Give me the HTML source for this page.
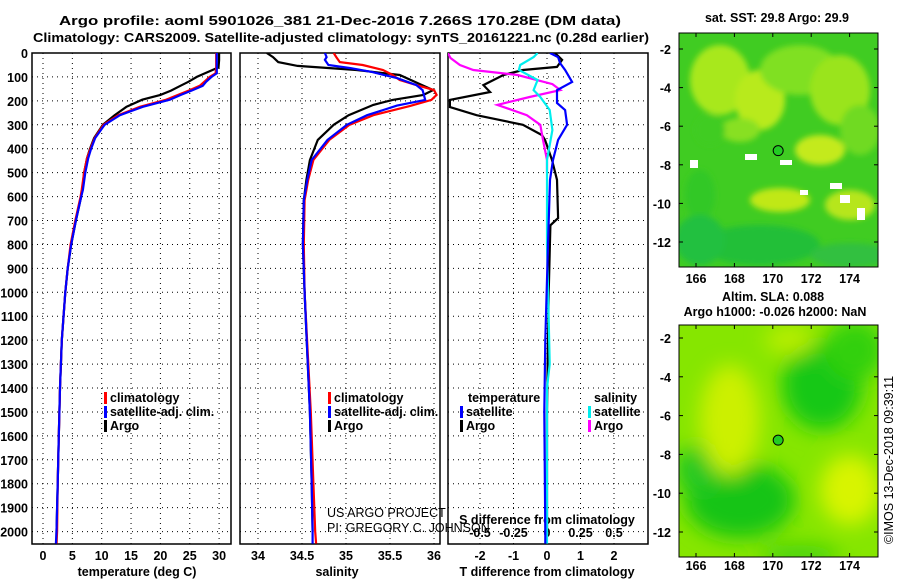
<!DOCTYPE html>
<html><head><meta charset="utf-8"><style>
html,body{margin:0;padding:0;background:#fff}
svg{display:block;font-family:"Liberation Sans",sans-serif}
.b{font-weight:bold;font-size:12.5px}
.t{font-weight:bold;font-size:13px}
</style></head><body>
<svg id="c" width="900" height="580" viewBox="0 0 900 580" xmlns="http://www.w3.org/2000/svg">
<defs>
<clipPath id="cp1"><rect x="32" y="53" width="199" height="491"/></clipPath>
<clipPath id="cp2"><rect x="240" y="53" width="200" height="491"/></clipPath>
<clipPath id="cp3"><rect x="448" y="53" width="200" height="491"/></clipPath>
<clipPath id="cm1"><rect x="679" y="33" width="199" height="234"/></clipPath>
<clipPath id="cm2"><rect x="679" y="325" width="199" height="232"/></clipPath>
<filter id="bl" x="-50%" y="-50%" width="200%" height="200%"><feGaussianBlur stdDeviation="10"/></filter>
<filter id="bl2" x="-50%" y="-50%" width="200%" height="200%"><feGaussianBlur stdDeviation="3"/></filter>
</defs>
<text class="t" x="340" y="25" text-anchor="middle" textLength="562" lengthAdjust="spacingAndGlyphs">Argo profile: aoml 5901026_381 21-Dec-2016 7.266S 170.28E (DM data)</text>
<text class="t" x="341" y="42" text-anchor="middle" textLength="616" lengthAdjust="spacingAndGlyphs">Climatology: CARS2009. Satellite-adjusted climatology: synTS_20161221.nc (0.28d earlier)</text>
<g id="g"></g>
</svg>
<script>
// ---- data ----
const depthTicks=[0,100,200,300,400,500,600,700,800,900,1000,1100,1200,1300,1400,1500,1600,1700,1800,1900,2000];
const tempTicks=[0,5,10,15,20,25,30];
const salTicks=[34,34.5,35,35.5,36];
const tdiffTicks=[-2,-1,0,1,2];
const sdiffTicks=[-0.5,-0.25,0,0.25,0.5];
const sdiffLabels=["-0.5","-0.25","0","0.25","0.5"];

const tDepth=[0,30,60,85,100,120,137,157,175,195,225,260,300,355,400,440,500,572,600,700,800,900,1000,1200,1400,1600,1800,2000,2050];
const tClim=[29.5,29.5,29.5,29.4,28.4,27.5,26.7,24.8,23,21,16.5,12.8,10.3,8.8,8.1,7.5,7,6.6,6.4,5.5,4.7,4.2,3.8,3.2,2.9,2.7,2.5,2.4,2.3];
const tSat=[29.6,29.6,29.6,29.6,28.7,27.8,27.2,25.3,23.5,21.6,17,13.1,10.5,8.9,8.2,7.7,7.2,6.8,6.5,5.6,4.8,4.2,3.8,3.2,2.9,2.7,2.5,2.3,2.2];
const tArgo=[30,30,29.9,27.6,26.2,24.8,23.4,21.8,20,16.9,14.2,12.2,10.2,8.7,8.0,7.5,7.0,6.7,6.5,5.6,4.8,4.2,3.8,3.2,2.9,2.7,2.5,2.3,2.3];

const sClimD=[0,17,38,50,71,92,113,134,155,175,196,221,260,300,363,447,530,615,800,1000,1500,1800,2000,2050];
const sClim=[34.86,34.89,34.93,35.19,35.42,35.53,35.61,35.8,36.0,36.03,35.97,35.73,35.31,35.04,34.81,34.63,34.57,34.53,34.52,34.53,34.6,34.63,34.65,34.66];
const sSatD=[0,17,29,50,63,80,105,134,155,196,220,260,300,363,447,530,615,800,1000,1500,1800,2000,2050];
const sSat=[34.76,34.78,34.76,34.8,35.05,35.3,35.58,35.8,35.87,35.9,35.58,35.24,35.01,34.79,34.61,34.56,34.52,34.51,34.53,34.59,34.61,34.62,34.62];
const sArgoD=[0,17,38,54,71,92,130,155,175,196,217,260,300,363,447,530,615,800,1000,1500,1800,2000];
const sArgo=[34.1,34.17,34.23,34.45,35.12,35.61,35.84,35.99,35.88,35.53,35.31,35.03,34.86,34.68,34.59,34.55,34.52,34.51,34.53,34.59,34.61,34.62];

const dTSatD=[0,17,42,71,121,155,209,238,300,363,447,530,800,1200,1500,2000,2050];
const dTSat=[0.09,0.33,0.39,0.54,0.75,0.3,0.3,0.54,0.6,0.33,0.18,0.09,0.03,-0.05,-0.08,-0.05,-0.05];
const dTArgoD=[0,29,58,71,92,134,163,196,226,260,300,343,363,447,530,690,720,1000,1500,2000];
const dTArgo=[0.24,0.45,0.3,-0.72,-1.3,-1.9,-1.7,-2.9,-2.9,-2.1,-0.72,-0.15,-0.06,0.15,0.3,0.33,0.1,0.05,0,0];
const dSSatD=[0,17,50,71,113,155,184,238,322,447,800,1300,1400,2000,2050];
const dSSat=[-0.07,-0.1,-0.2,-0.21,-0.07,-0.1,-0.05,0.02,0.04,0,0,0.02,0,0,0];
const dSArgoD=[0,21,50,71,92,130,155,184,217,260,300,363,447,500];
const dSArgo=[-0.74,-0.72,-0.65,-0.55,-0.22,0.04,0.1,-0.13,-0.37,-0.15,-0.05,-0.03,0,0];

const lonTicks=[166,168,170,172,174];
const latTicks=[-2,-4,-6,-8,-10,-12];
const argoLon=170.28, argoLat=-7.266;

// ---- scales ----
const yD=d=>53+d*0.2393;
const xT=t=>43+t*5.87;
const xS=s=>302+(s-34.5)*88;
const xDT=t=>547+t*33.5;
const xDS=s=>547+s*134;
const mx=l=>696+(l-166)*19.2;
const my1=l=>49+(-2-l)*19.3;
const my2=l=>338+(-2-l)*19.4;

const NS="http://www.w3.org/2000/svg";
const G=document.getElementById('g');
function mk(tag,attrs,parent){const e=document.createElementNS(NS,tag);for(const k in attrs)e.setAttribute(k,attrs[k]);(parent||G).appendChild(e);return e;}
function txt(x,y,s,cls,anchor,parent){const e=mk('text',{x:x,y:y,class:cls||'b','text-anchor':anchor||'start'},parent);e.textContent=s;return e;}

const panels=[{x0:32,x1:231,clip:'cp1'},{x0:240,x1:440,clip:'cp2'},{x0:448,x1:648,clip:'cp3'}];
const vticks=[tempTicks.map(xT),salTicks.map(xS),tdiffTicks.map(xDT)];
panels.forEach((p,i)=>{
  const grp=mk('g',{});
  
  
  depthTicks.forEach(d=>{const l=mk('line',{x1:p.x0,x2:p.x1,y1:yD(d),y2:yD(d),stroke:'#000','stroke-width':1,'stroke-dasharray':'1,4'},grp);
    });
  vticks[i].forEach(x=>{const l=mk('line',{x1:x,x2:x,y1:53,y2:544,stroke:'#000','stroke-width':1,'stroke-dasharray':'1,4'},grp);
    });
  const r=mk('rect',{x:p.x0,y:53,width:p.x1-p.x0,height:491,fill:'none',stroke:'#000','stroke-width':1.5},grp);
  
});
depthTicks.forEach(d=>{const e=txt(28,yD(d)+5,String(d),'b','end');
  });
tempTicks.forEach(t=>{const e=txt(xT(t),560,String(t),'b','middle');
  });
salTicks.forEach(s=>{const e=txt(xS(s),560,String(s),'b','middle');
  });
tdiffTicks.forEach(t=>{const e=txt(xDT(t),560,String(t),'b','middle');
  });
sdiffTicks.forEach((s,i)=>{const e=txt(xDS(s),537,sdiffLabels[i],'b','middle');
  });
let e;
e=txt(137,576,'temperature (deg C)','b','middle');
e=txt(337,576,'salinity','b','middle');
e=txt(547,576,'T difference from climatology','b','middle');
e=txt(547,524,'S difference from climatology','b','middle');
e=txt(327,517,'US ARGO PROJECT','b','start');e.style.fontWeight='normal';
e=txt(327,532,'PI: GREGORY C. JOHNSON','b','start');e.style.fontWeight='normal';

function line(depths,vals,xf,color,clip,name){
  const pts=depths.map((d,i)=>xf(vals[i]).toFixed(1)+','+yD(d).toFixed(1)).join(' ');
  const pl=mk('polyline',{points:pts,fill:'none',stroke:color,'stroke-width':2.2,'clip-path':'url(#'+clip+')'});
  
  
}
line(tDepth,tArgo,xT,'#000','cp1','temperature-argo-line');
line(tDepth,tClim,xT,'#f00','cp1','temperature-climatology-line');
line(tDepth,tSat,xT,'#00f','cp1','temperature-satellite-line');
line(sArgoD,sArgo,xS,'#000','cp2','salinity-argo-line');
line(sClimD,sClim,xS,'#f00','cp2','salinity-climatology-line');
line(sSatD,sSat,xS,'#00f','cp2','salinity-satellite-line');
line(dTArgoD,dTArgo,xDT,'#000','cp3','t-diff-argo-line');
line(dSArgoD,dSArgo,xDS,'#f0f','cp3','s-diff-argo-line');
line(dSSatD,dSSat,xDS,'#0ee','cp3','s-diff-satellite-line');
line(dTSatD,dTSat,xDT,'#00f','cp3','t-diff-satellite-line');

function legend(x,y,color,label,name){
  const m=mk('rect',{x:x,y:y-10,width:3,height:12,fill:color});
  
  const t=txt(x+6,y,label,'b','start');
  
}
legend(104,402,'#f00','climatology','legend-temp-climatology');
legend(104,416,'#00f','satellite-adj. clim.','legend-temp-satellite');
legend(104,430,'#000','Argo','legend-temp-argo');
legend(328,402,'#f00','climatology','legend-sal-climatology');
legend(328,416,'#00f','satellite-adj. clim.','legend-sal-satellite');
legend(328,430,'#000','Argo','legend-sal-argo');
e=txt(468,402,'temperature');
legend(460,416,'#00f','satellite','legend-tdiff-satellite');
legend(460,430,'#000','Argo','legend-tdiff-argo');
e=txt(594,402,'salinity');
legend(588,416,'#0ee','satellite','legend-sdiff-satellite');
legend(588,430,'#f0f','Argo','legend-sdiff-argo');

// ---- maps ----
function mapFrame(y0,h,myf,botY,name,blobs,base,whites,blur){
  const grp=mk('g',{});
  
  
  const cg=mk('g',{'clip-path':'url(#'+(y0<300?'cm1':'cm2')+')'},grp);
  mk('rect',{x:679,y:y0,width:199,height:h,fill:base},cg);
  const bg=mk('g',{filter:'url(#'+blur+')'},cg);
  blobs.forEach(b=>mk('ellipse',{cx:b[0],cy:b[1],rx:b[2],ry:b[3],fill:b[4]},bg));
  whites.forEach(w=>mk('rect',{x:w[0],y:w[1],width:w[2],height:w[3],fill:'#fff'},cg));
  const dot=mk('circle',{cx:mx(argoLon),cy:myf(argoLat),r:5,fill:'#22cc22',stroke:'#000','stroke-width':1},grp);
  
  mk('rect',{x:679,y:y0,width:199,height:h,fill:'none',stroke:'#000','stroke-width':1},grp);
  lonTicks.forEach(l=>{mk('line',{x1:mx(l),x2:mx(l),y1:y0+h,y2:y0+h-4,stroke:'#000'},grp);mk('line',{x1:mx(l),x2:mx(l),y1:y0,y2:y0+4,stroke:'#000'},grp);
    const t=txt(mx(l),botY,String(l),'b','middle',grp);});
  latTicks.forEach(l=>{mk('line',{x1:679,x2:683,y1:myf(l),y2:myf(l),stroke:'#000'},grp);mk('line',{x1:878,x2:874,y1:myf(l),y2:myf(l),stroke:'#000'},grp);
    const t=txt(671,myf(l)+5,String(l),'b','end',grp);});
}
mapFrame(33,234,my1,283,'sst-map',[
 [720,80,30,35,'#a8e81e'],[760,100,25,30,'#b8ea1c'],[800,70,40,25,'#80e020'],[840,90,30,35,'#9ae41e'],[860,130,20,25,'#6fda20'],
 [780,200,30,12,'#c0e818'],[850,205,25,15,'#b6e61c'],[700,195,15,25,'#30c828'],[760,245,60,20,'#20bf38'],
 [700,240,25,25,'#22c040'],[850,255,40,12,'#30c040'],[820,150,25,15,'#c4ea1a'],[740,130,20,12,'#88e020'],[710,130,15,15,'#40cc22']
],'#40cc22',[[745,154,12,6],[780,160,12,5],[800,190,8,5],[830,183,12,6],[840,195,10,8],[690,160,8,8],[857,208,8,12]],'bl2');
mapFrame(325,232,my2,570,'sla-map',[
 [822,385,40,45,'#14c814'],[855,350,30,30,'#30d010'],[740,500,55,38,'#16c416'],[700,470,25,25,'#20c820'],
 [730,420,30,55,'#ccf000'],[850,490,30,35,'#d8f400'],[790,340,25,15,'#b8ee00'],[800,555,40,10,'#40d010']
],'#86e600',[],'bl');
e=txt(777,22,'sat. SST: 29.8 Argo: 29.9','b','middle');
e=txt(773,301,'Altim. SLA: 0.088','b','middle');
e=txt(775,316,'Argo h1000: -0.026 h2000: NaN','b','middle');
e=txt(0,0,'©IMOS 13-Dec-2018 09:39:11','b','middle');e.style.fontWeight='normal';e.setAttribute('transform','translate(893,460) rotate(-90)');


</script>
</body></html>
